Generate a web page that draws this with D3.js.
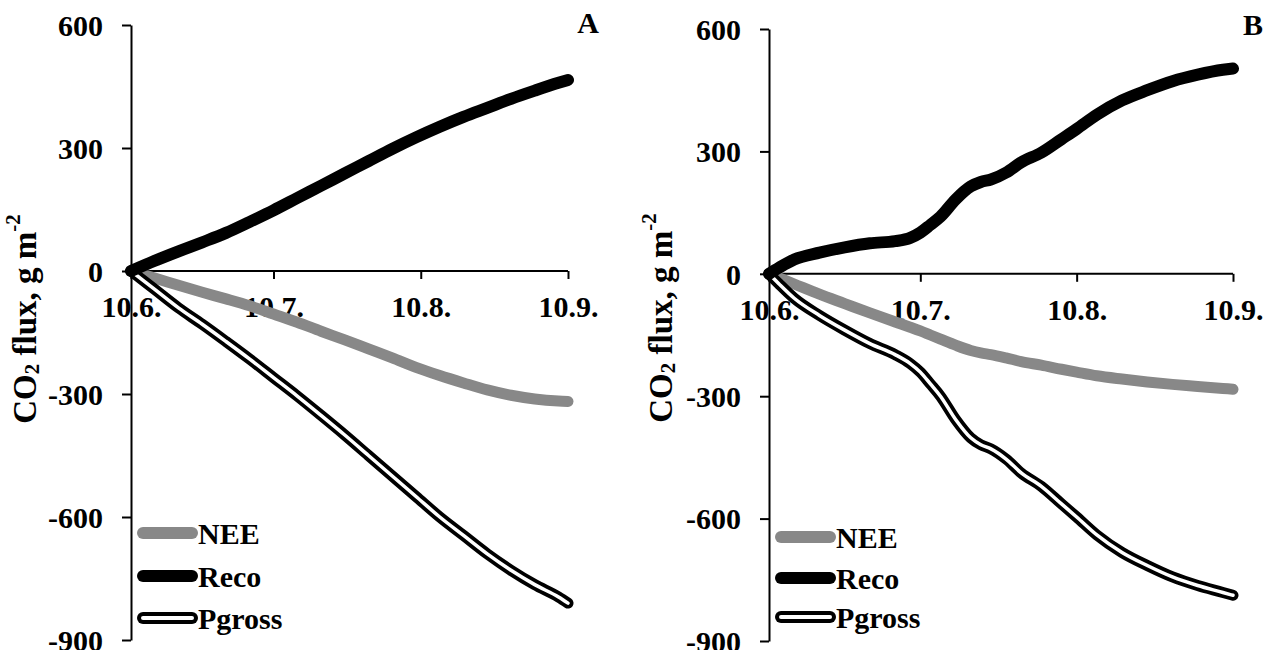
<!DOCTYPE html>
<html>
<head>
<meta charset="utf-8">
<script src="https://cdn.jsdelivr.net/npm/d3@7"></script>
<style>
  body { margin: 0; background: #fff; }
  svg text { font-family: "Liberation Serif", "DejaVu Serif", "Times New Roman", serif !important; font-weight: bold; fill: #000; }
</style>
</head>
<body>
<div id="chart"></div>
<script>
// days after 10 June
const tickDays = [0, 30, 61, 92];
const yTicks = [-900, -600, -300, 0, 300, 600];
const seriesNames = ["NEE", "Reco", "Pgross"];

const daysA = [0, 5, 10, 15, 20, 25, 30, 35, 40, 45, 50, 55, 60, 65, 70, 75, 80, 85, 90, 92];
const neeA = [0, -17, -35, -52, -68, -85, -105, -125, -147, -168, -190, -212, -235, -255, -273, -290, -303, -312, -317, -318];
const recoA = [0, 25, 48, 70, 93, 120, 148, 178, 208, 238, 268, 298, 326, 352, 376, 398, 420, 440, 459, 466];
const pgrossA = [0, -45, -90, -130, -172, -215, -260, -305, -352, -400, -450, -500, -550, -600, -645, -690, -730, -765, -795, -810];

const daysB = [0, 2, 5, 10, 15, 20, 25, 28, 30, 32, 34, 37, 40, 42, 44, 47, 50, 54, 58, 61, 65, 70, 75, 80, 85, 90, 92];
const neeB = [0, -10, -25, -50, -73, -96, -118, -131, -140, -150, -160, -175, -188, -194, -198, -206, -215, -224, -234, -241, -250, -258, -265, -271, -276, -281, -283];
const recoB = [0, 15, 35, 52, 65, 75, 80, 88, 101, 120, 140, 182, 214, 225, 231, 248, 273, 297, 330, 355, 390, 425, 450, 472, 488, 500, 503];
const pgrossB = [0, -25, -60, -102, -138, -171, -198, -220, -241, -270, -300, -357, -402, -419, -429, -454, -488, -521, -564, -596, -640, -683, -715, -743, -764, -781, -788];

const startDate = new Date(2013, 5, 10);
const toDate = d => d3.timeDay.offset(startDate, d);
const fmt = d3.timeFormat("%-d.%-m.");

const svg = d3.select("#chart").append("svg")
    .attr("width", 1277)
    .attr("height", 650);

const panels = [
  { letter: "A", left: 131, right: 568, top: 25, bottom: 640, letterX: 588, letterY: 33, labelX: 25, labelY: 319,
    days: daysA, series: [neeA, recoA, pgrossA], legendX: 137, legendY: [533, 576, 618] },
  { letter: "B", left: 769, right: 1233, top: 29, bottom: 641, letterX: 1253, letterY: 35, labelX: 661, labelY: 318,
    days: daysB, series: [neeB, recoB, pgrossB], legendX: 775, legendY: [537, 578, 617] }
];

const drawPanel = (p) => {
  const x = d3.scaleTime().domain([toDate(0), toDate(92)]).range([p.left, p.right]);
  const y = d3.scaleLinear().domain([-900, 600]).range([p.bottom, p.top]);

  const yAxis = svg.append("g")
      .attr("transform", `translate(${p.left},0)`)
      .call(d3.axisLeft(y).tickValues(yTicks).tickSize(9).tickSizeOuter(0).tickPadding(19).tickFormat(d => String(d)));
  yAxis.attr("font-family", null);
  yAxis.selectAll("text").attr("font-size", 30).attr("dy", "0.34em");
  yAxis.selectAll("path, line").attr("stroke", "#000").attr("stroke-width", 2);

  const xAxis = svg.append("g")
      .attr("transform", `translate(0,${y(0)})`)
      .call(d3.axisBottom(x).tickValues(tickDays.map(toDate)).tickSize(8).tickSizeOuter(0).tickPadding(17).tickFormat(fmt));
  xAxis.attr("font-family", null);
  xAxis.selectAll("text").attr("font-size", 30);
  xAxis.selectAll("path, line").attr("stroke", "#000").attr("stroke-width", 2);
  xAxis.select(".domain").attr("d", `M${p.left},0H${p.right}`);

  const line = d3.line()
      .x((d, i) => x(toDate(p.days[i])))
      .y(d => y(d))
      .curve(d3.curveMonotoneX);

  const [nee, reco, pgross] = p.series;
  svg.append("path").attr("d", line(nee)).attr("fill", "none")
      .attr("stroke", "#888").attr("stroke-width", 11).attr("stroke-linecap", "round").attr("stroke-linejoin", "round");
  svg.append("path").attr("d", line(pgross)).attr("fill", "none")
      .attr("stroke", "#000").attr("stroke-width", 11).attr("stroke-linecap", "round").attr("stroke-linejoin", "round");
  svg.append("path").attr("d", line(pgross)).attr("fill", "none")
      .attr("stroke", "#fff").attr("stroke-width", 3.5).attr("stroke-linecap", "round").attr("stroke-linejoin", "round");
  svg.append("path").attr("d", line(reco)).attr("fill", "none")
      .attr("stroke", "#000").attr("stroke-width", 12).attr("stroke-linecap", "round").attr("stroke-linejoin", "round");

  // panel letter
  svg.append("text").attr("x", p.letterX).attr("y", p.letterY)
      .attr("text-anchor", "middle").attr("font-size", 30).text(p.letter);

  // y label
  const lab = svg.append("text")
      .attr("transform", `translate(${p.labelX},${p.labelY}) rotate(-90)`)
      .attr("text-anchor", "middle")
      .attr("dominant-baseline", "central")
      .attr("font-size", 33);
  lab.append("tspan").text("CO");
  lab.append("tspan").attr("font-size", 21).attr("dy", 7).text("2");
  lab.append("tspan").attr("dy", -7).text(" flux, g m");
  lab.append("tspan").attr("font-size", 21).attr("dy", -12).text("-2");

  // legend
  const styles = [
    [{ c: "#888", w: 12 }],
    [{ c: "#000", w: 12 }],
    [{ c: "#000", w: 12 }, { c: "#fff", w: 4 }]
  ];
  seriesNames.forEach((name, i) => {
    const ly = p.legendY[i];
    styles[i].forEach(s => {
      svg.append("line")
          .attr("x1", p.legendX + 6).attr("x2", p.legendX + 55)
          .attr("y1", ly).attr("y2", ly)
          .attr("stroke", s.c).attr("stroke-width", s.w).attr("stroke-linecap", "round");
    });
    svg.append("text").attr("x", p.legendX + 61).attr("y", ly)
        .attr("dominant-baseline", "central").attr("font-size", 30).text(name);
  });
};

panels.forEach(drawPanel);
</script>
</body>
</html>
